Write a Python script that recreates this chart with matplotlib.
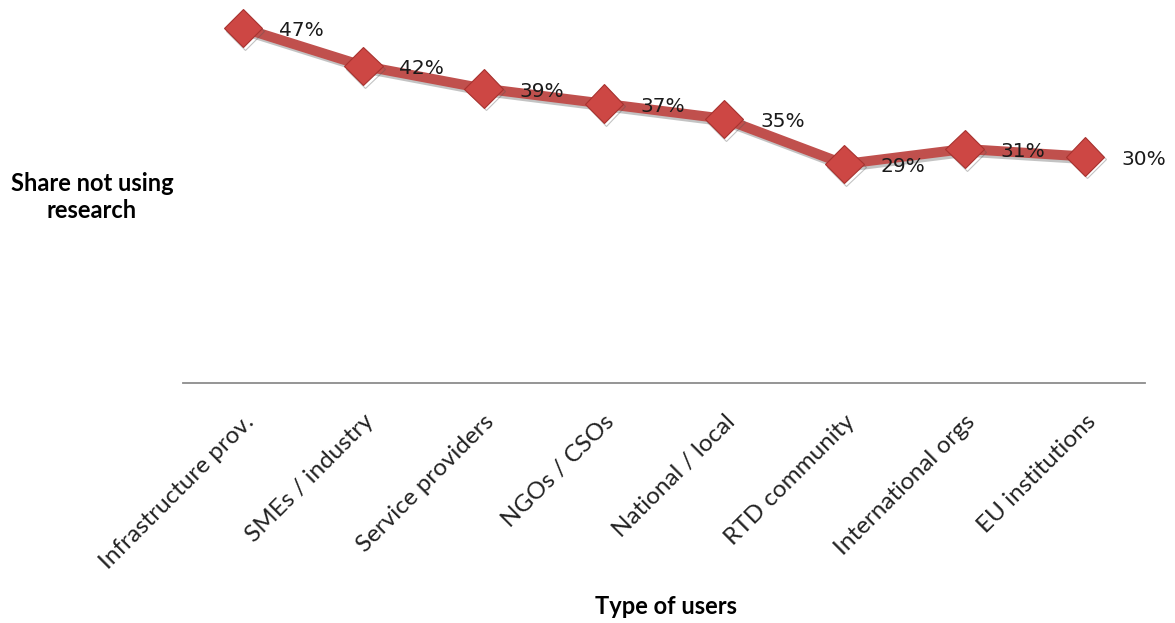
import matplotlib.pyplot as plt
import matplotlib.patheffects as pe

users = ["Infrastructure prov.", "SMEs / industry", "Service providers", "NGOs / CSOs",
         "National / local", "RTD community", "International orgs", "EU institutions"]
share_not_using = [0.47, 0.42, 0.39, 0.37, 0.35, 0.29, 0.31, 0.30]

fig = plt.figure(figsize=(11.75, 6.23), dpi=100)
ax = fig.add_axes([183 / 1175, 1 - 383 / 623, 962 / 1175, 377.5 / 623])

x = range(len(users))
ax.plot(x, share_not_using, color="#C0504D", linewidth=7.2, marker="D", markersize=19.5,
        markerfacecolor="#CD4744", markeredgecolor="#A8322F", markeredgewidth=0.8,
        solid_joinstyle="round",
        path_effects=[pe.SimpleLineShadow(offset=(1.5, -2.0), shadow_color="#555555", alpha=0.35),
                      pe.Normal()])

for i, v in enumerate(share_not_using):
    ax.annotate(f"{v:.0%}", (i, v), xytext=(26, -2), textcoords="offset points",
                ha="left", va="center", fontsize=14.5, color="#1a1a1a",
                family="DejaVu Sans")

ax.set_xlim(-0.5, len(users) - 0.5)
ax.set_ylim(0, 0.5)
ax.set_yticks([])
ax.set_xticks(list(x))
ax.set_xticklabels(users, rotation=45, ha="right", rotation_mode="anchor",
                   fontsize=17.5, family="Lato", color="#222222")
ax.tick_params(axis="x", length=0, pad=20)

for side in ["top", "right", "left"]:
    ax.spines[side].set_visible(False)
ax.spines["bottom"].set_color("#8c8c8c")
ax.spines["bottom"].set_linewidth(1.3)

fig.text(92 / 1175, 1 - 197 / 623, "Share not using\nresearch", ha="center", va="center",
         fontsize=17, fontweight="bold", family="Lato", linespacing=1.2)
fig.text(666 / 1175, 1 - 607 / 623, "Type of users", ha="center", va="center",
         fontsize=17, fontweight="bold", family="Lato")

fig.savefig("out.png", dpi=100)
